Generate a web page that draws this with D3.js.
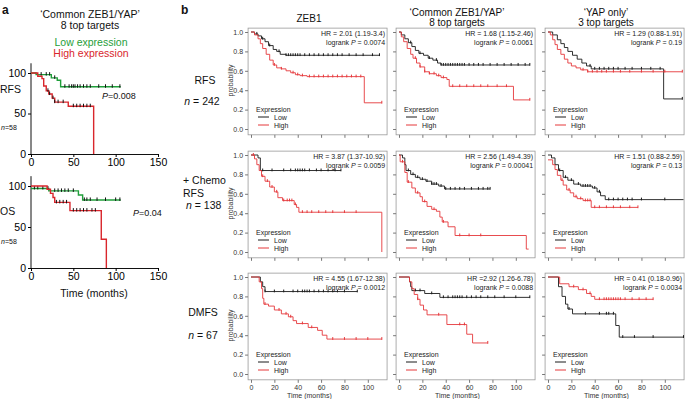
<!DOCTYPE html>
<html><head><meta charset="utf-8">
<script src="https://cdn.jsdelivr.net/npm/d3@7"></script>
<style>body{margin:0;background:#fff}svg{display:block;font-family:"Liberation Sans",Arial,sans-serif}</style>
</head><body><svg id="c" width="685" height="399"></svg>
<script>
// ---------- Panel a data (percent survival, months) ----------
const aTimeTicks = [0, 50, 100, 150];
const aPctTicks = [0, 50, 100];
const aRfsLow  = [[0,100],[6,98],[24,94],[31,91],[35,83],[106,83]];
const aRfsHigh = [[0,100],[8,96],[13,93],[15,84],[18,78],[21,74],[25,69],[28,64],[44,59],[74,0]];
const aOsLow   = [[0,97],[21,94],[56,89],[61,83],[106,83]];
const aOsHigh  = [[0,100],[19,96],[23,91],[26,86],[28,80],[46,70],[83,35],[89,0]];
const aRfsLowC  = [12,18,22,28,40,45,48,50,52,55,58,62,66,70,80,88,96,105];
const aRfsHighC = [20,22,26,28,32,38,50,54,58,62,66,70];
const aOsLowC   = [4,8,14,20,28,32,36,40,44,50,63,66,70,78,88,100,105];
const aOsHighC  = [30,34,38,42,50,54,58,62,66,72,76];

// ---------- Panel b data (probability, months) ----------
const bTimeTicks = [0, 20, 40, 60, 80, 100];
const bProbTicks = [0, 0.2, 0.4, 0.6, 0.8, 1.0];
const colTitles = [["ZEB1"], ["\u2018Common ZEB1/YAP\u2019", "8 top targets"], ["\u2018YAP only\u2019", "3 top targets"]];

const zeb1RfsLow    = [[0,1],[3,0.98],[6,0.96],[9,0.93],[12,0.9],[15,0.86],[19,0.82],[22,0.8],[25,0.77],[30,0.76],[110,0.76]];
const zeb1RfsHigh   = [[0,1],[3,0.97],[6,0.93],[8,0.88],[10,0.83],[13,0.77],[16,0.71],[19,0.66],[22,0.63],[26,0.62],[30,0.6],[34,0.58],[38,0.56],[42,0.55],[48,0.54],[97,0.27],[112,0.27]];
const commonRfsLow  = [[0,1],[2,0.97],[5,0.93],[8,0.89],[11,0.85],[14,0.81],[17,0.78],[21,0.76],[25,0.73],[29,0.71],[33,0.68],[36,0.66],[112,0.66]];
const commonRfsHigh = [[0,1],[2,0.95],[4,0.9],[7,0.83],[10,0.77],[12,0.73],[15,0.68],[18,0.64],[22,0.59],[26,0.57],[32,0.55],[36,0.53],[41,0.51],[43,0.44],[98,0.3],[112,0.3]];
const yapRfsLow     = [[0,1],[4,0.97],[8,0.92],[11,0.88],[14,0.84],[17,0.8],[21,0.76],[25,0.72],[29,0.68],[33,0.65],[37,0.62],[99,0.31],[115,0.31]];
const yapRfsHigh    = [[0,1],[2,0.97],[4,0.92],[6,0.87],[8,0.82],[11,0.77],[14,0.72],[17,0.68],[20,0.65],[24,0.63],[28,0.61],[34,0.59],[115,0.59]];

const zeb1ChemoLow    = [[0,1],[6,0.97],[8,0.84],[77,0.84]];
const zeb1ChemoHigh   = [[0,1],[3,0.96],[5,0.9],[7,0.84],[9,0.78],[12,0.73],[16,0.67],[20,0.62],[23,0.56],[27,0.53],[37,0.49],[39,0.46],[41,0.41],[112,0]];
const commonChemoLow  = [[0,1],[3,0.97],[5,0.9],[6,0.84],[10,0.8],[14,0.77],[18,0.75],[23,0.73],[28,0.7],[34,0.68],[39,0.65],[78,0.65]];
const commonChemoHigh = [[0,1],[1,0.93],[5,0.82],[7,0.72],[11,0.66],[14,0.61],[18,0.57],[20,0.52],[24,0.47],[28,0.44],[32,0.42],[35,0.36],[37,0.31],[42,0.26],[48,0.17],[109,0.03],[111,0.03]];
const yapChemoLow     = [[0,1],[3,0.97],[6,0.9],[9,0.84],[13,0.77],[17,0.74],[22,0.7],[28,0.68],[38,0.66],[42,0.62],[45,0.58],[49,0.54],[116,0.54]];
const yapChemoHigh    = [[0,0.95],[4,0.9],[6,0.85],[8,0.79],[11,0.74],[13,0.69],[16,0.64],[19,0.61],[22,0.57],[25,0.55],[30,0.53],[37,0.46],[77,0.46]];

const zeb1DmfsLow    = [[0,1],[8,0.95],[10,0.9],[12,0.85],[91,0.85]];
const zeb1DmfsHigh   = [[0,1],[7,0.95],[9,0.88],[10,0.78],[11,0.72],[15,0.7],[20,0.66],[26,0.62],[32,0.59],[36,0.55],[39,0.52],[49,0.48],[57,0.45],[61,0.4],[65,0.36],[112,0.36]];
const commonDmfsLow  = [[0,1],[9,0.95],[10,0.9],[11,0.86],[22,0.83],[35,0.79],[112,0.79]];
const commonDmfsHigh = [[0,1],[9,0.95],[11,0.88],[13,0.82],[16,0.77],[18,0.71],[21,0.66],[24,0.61],[41,0.51],[58,0.41],[63,0.32],[76,0.32]];
const yapDmfsLow     = [[0,1],[9,0.9],[12,0.8],[15,0.72],[17,0.67],[21,0.62],[58,0.5],[61,0.38],[116,0.38]];
const yapDmfsHigh    = [[0,1],[10,0.93],[18,0.9],[26,0.87],[33,0.83],[37,0.8],[40,0.77],[90,0.77]];

const zeb1RfsLowC     = [5,10,16,24,30,32,34,36,38,40,42,46,50,54,58,62,66,70,74,78,84,90,96,104,110];
const zeb1RfsHighC    = [20,26,36,40,44,50,54,58,62,66,70,74,78,82,86,90,94,112];
const commonRfsLowC   = [10,18,26,32,36,38,40,42,44,46,48,50,52,54,56,60,64,68,72,78,84,90,96,102,108,112];
const commonRfsHighC  = [14,18,22,26,30,34,38,46,52,58,64,70,76,84,92,112];
const yapRfsLowC      = [36,40,44,48,52,56,60,66,72,80,88,96,115];
const yapRfsHighC     = [30,34,38,42,46,50,56,62,70,80,90,100,115];
const zeb1ChemoLowC   = [10,18,28,34,38,40,42,44,46,50,56,60,66,72,77];
const zeb1ChemoHighC  = [2,10,14,18,22,28,31,33,35,38,44,48,52,58,64,70,80,90];
const commonChemoLowC = [8,12,16,20,24,28,30,32,36,40,44,48,52,56,62,68,72,76,78];
const commonChemoHighC= [3,8,16,22,30,38,52,60,70];
const yapChemoLowC    = [10,15,20,26,30,32,34,36,40,44,52,56,60,64,68,72,80,100];
const yapChemoHighC   = [12,18,24,28,32,34,36,40,44,50,56,62,70,77];
const zeb1DmfsLowC    = [12,20,28,36,40,44,46,48,50,54,58,62,66,70,74,80,91];
const zeb1DmfsHighC   = [12,24,30,34,44,52,70,80,90,100,112];
const commonDmfsLowC  = [14,18,28,38,42,46,48,50,52,54,58,62,66,70,76,82,90,100,112];
const commonDmfsHighC = [16,34,52,56,76];
const yapDmfsLowC     = [18,32,44,50,52,56,64,74,90,116];
const yapDmfsHighC    = [22,30,36,44,48,50,52,54,56,58,60,62,66,72,78,84,90];

const hrText = [
  ["HR = 2.01 (1.19-3.4)", "HR = 1.68 (1.15-2.46)", "HR = 1.29 (0.88-1.91)"],
  ["HR = 3.87 (1.37-10.92)", "HR = 2.56 (1.49-4.39)", "HR = 1.51 (0.88-2.59)"],
  ["HR = 4.55 (1.67-12.38)", "HR =2.92 (1.26-6.78)", "HR = 0.41 (0.18-0.96)"]
];
const logrankP = [["0.0074","0.0061","0.19"],["0.0059","0.00041","0.13"],["0.0012","0.0088","0.0034"]];

// ---------- drawing ----------
const svg = d3.select("#c");
const FONT = '"Liberation Sans",Arial,sans-serif';
const GREEN = "#1f9e3a", REDA = "#d9262c", REDB = "#e5383b", BLACK = "#1a1a1a";

function stepVal(pts, t){ let v = pts[0][1]; for (const p of pts){ if (p[0] <= t) v = p[1]; else break; } return v; }
function drawKM(g, x, y, pts, cens, color, w, tickColor, th){
  const line = d3.line().x(d => x(d[0])).y(d => y(d[1])).curve(d3.curveStepAfter);
  g.append("path").attr("d", line(pts)).attr("fill","none").attr("stroke",color).attr("stroke-width",w);
  g.selectAll(null).data(cens).enter().append("line")
    .attr("x1", d => x(d)).attr("x2", d => x(d))
    .attr("y1", d => y(stepVal(pts, d)) - th).attr("y2", d => y(stepVal(pts, d)) + th*0.4)
    .attr("stroke", tickColor).attr("stroke-width", 1);
}
function txt(x, y, s, size, anchor, opts = {}){
  const t = svg.append("text").attr("x", x).attr("y", y).attr("font-size", size)
    .attr("text-anchor", anchor || "start").attr("font-family", FONT).attr("fill", opts.fill || "#111");
  if (opts.weight) t.attr("font-weight", opts.weight);
  if (opts.style) t.attr("font-style", opts.style);
  t.text(s); return t;
}

// ----- Panel a -----
txt(2, 14, "a", 12, "start", {weight: "bold"});
txt(90, 18, "\u2018Common ZEB1/YAP\u2019", 10.5, "middle");
txt(90, 29, "8 top targets", 10.5, "middle");
txt(91, 46, "Low expression", 10.5, "middle", {fill: GREEN});
txt(91, 57, "High expression", 10.5, "middle", {fill: REDA});

const xA = d3.scaleLinear().domain([0,150]).range([31,158]);
const aPlots = [
  {y: d3.scaleLinear().domain([0,100]).range([154,73]), low: aRfsLow, high: aRfsHigh, lowC: aRfsLowC, highC: aRfsHighC, lab: "RFS", labY: 93, nY: 130, p: "0.008", px: 102, py: 99},
  {y: d3.scaleLinear().domain([0,100]).range([268,186]), low: aOsLow, high: aOsHigh, lowC: aOsLowC, highC: aOsHighC, lab: "OS", labY: 215, nY: 244, p: "0.04", px: 133, py: 216}
];
aPlots.forEach(P => {
  const g = svg.append("g");
  const ax = g.append("g").attr("transform", `translate(0,${P.y(0)})`)
    .call(d3.axisBottom(xA).tickValues(aTimeTicks).tickSize(3).tickSizeOuter(0).tickPadding(2));
  ax.attr("font-size", 10.5).attr("font-family", FONT);
  ax.select(".domain").attr("stroke", "#111");
  const ay = g.append("g").attr("transform", `translate(${xA(0)},0)`)
    .call(d3.axisLeft(P.y).tickValues(aPctTicks).tickSize(3).tickSizeOuter(0).tickPadding(2));
  ay.attr("font-size", 10.5).attr("font-family", FONT);
  ay.select(".domain").remove();
  g.append("line").attr("x1", xA(0)).attr("x2", xA(0)).attr("y1", P.y(0)).attr("y2", P.y(112)).attr("stroke", "#111");
  drawKM(g, xA, P.y, P.low, P.lowC, GREEN, 1.4, "#111", 2.5);
  drawKM(g, xA, P.y, P.high, P.highC, REDA, 1.4, "#111", 2.5);
  txt(0, P.labY, P.lab, 10.5, "start");
  const n = txt(1, P.nY, "", 7, "start");
  n.append("tspan").attr("font-style", "italic").text("n");
  n.append("tspan").text("=58");
  const p = txt(P.px, P.py, "", 9, "start");
  p.append("tspan").attr("font-style", "italic").text("P");
  p.append("tspan").text("=" + P.p);
});
txt(94, 297, "Time (months)", 10.5, "middle");

// ----- Panel b -----
txt(181, 14, "b", 12, "start", {weight: "bold"});
const colX0 = [251, 399, 548];
const rowY1 = [32, 155, 277];
const PXM = 1.168, PH = 97;
colTitles.forEach((lines, c) => {
  const cx = colX0[c] + 58;
  if (lines.length === 1) txt(cx, 22, lines[0], 10, "middle");
  else { txt(cx, 15.5, lines[0], 10, "middle"); txt(cx, 26, lines[1], 10, "middle"); }
});
// row labels
txt(205, 84, "RFS", 10.5, "middle");
const n1 = txt(202, 105, "", 10.5, "middle"); n1.append("tspan").attr("font-style","italic").text("n"); n1.append("tspan").text(" = 242");
txt(183, 184, "+ Chemo", 10.5, "start");
txt(183, 197, "RFS", 10.5, "start");
const n2 = txt(186, 209, "", 10.5, "start"); n2.append("tspan").attr("font-style","italic").text("n"); n2.append("tspan").text(" = 138");
txt(203, 316, "DMFS", 10.5, "middle");
const n3 = txt(203, 339, "", 10.5, "middle"); n3.append("tspan").attr("font-style","italic").text("n"); n3.append("tspan").text(" = 67");

const curvesB = [
  [[zeb1RfsLow, zeb1RfsHigh, zeb1RfsLowC, zeb1RfsHighC], [commonRfsLow, commonRfsHigh, commonRfsLowC, commonRfsHighC], [yapRfsLow, yapRfsHigh, yapRfsLowC, yapRfsHighC]],
  [[zeb1ChemoLow, zeb1ChemoHigh, zeb1ChemoLowC, zeb1ChemoHighC], [commonChemoLow, commonChemoHigh, commonChemoLowC, commonChemoHighC], [yapChemoLow, yapChemoHigh, yapChemoLowC, yapChemoHighC]],
  [[zeb1DmfsLow, zeb1DmfsHigh, zeb1DmfsLowC, zeb1DmfsHighC], [commonDmfsLow, commonDmfsHigh, commonDmfsLowC, commonDmfsHighC], [yapDmfsLow, yapDmfsHigh, yapDmfsLowC, yapDmfsHighC]]
];

rowY1.forEach((y1, r) => {
  colX0.forEach((x0, c) => {
    const x = d3.scaleLinear().domain([0,100]).range([x0, x0 + 100*PXM]);
    const y = d3.scaleLinear().domain([0,1]).range([y1 + PH, y1]);
    const g = svg.append("g");
    const L = x(-2.5), R = x(116.5), T = y(1.04), B = y(-0.06);
    g.append("rect").attr("x", L).attr("y", T).attr("width", R - L).attr("height", B - T)
      .attr("fill", "none").attr("stroke", "#9a9a9a").attr("stroke-width", 0.8);
    const ax = g.append("g").attr("transform", `translate(0,${B})`)
      .call(d3.axisBottom(x).tickValues(bTimeTicks).tickSize(3).tickSizeOuter(0).tickPadding(2)
        .tickFormat(r === 2 ? d3.format("d") : ""));
    ax.select(".domain").remove();
    ax.attr("font-size", 7).attr("font-family", FONT);
    ax.selectAll("line").attr("stroke", "#777");
    ax.selectAll("text").attr("fill", "#333");
    const ay = g.append("g").attr("transform", `translate(${L},0)`)
      .call(d3.axisLeft(y).tickValues(bProbTicks).tickSize(3).tickSizeOuter(0).tickPadding(2)
        .tickFormat(c === 0 ? d3.format(".1f") : ""));
    ay.select(".domain").remove();
    ay.attr("font-size", 7).attr("font-family", FONT);
    ay.selectAll("line").attr("stroke", "#777");
    ay.selectAll("text").attr("fill", "#333");
    if (c === 0) {
      svg.append("text").attr("transform", `translate(${L - 15},${y(0.5)}) rotate(-90)`)
        .attr("text-anchor", "middle").attr("font-size", 7).attr("font-family", FONT).attr("fill", "#333").text("probability");
    }
    const [lo, hi, loC, hiC] = curvesB[r][c];
    drawKM(g, x, y, lo, loC, BLACK, 0.9, BLACK, 2);
    drawKM(g, x, y, hi, hiC, REDB, 0.9, REDB, 2);
    // HR text
    txt(R - 2, y1 + 4, hrText[r][c], 7, "end", {fill: "#222"});
    const lr = txt(R - 2, y1 + 13, "", 7, "end", {fill: "#222"});
    lr.append("tspan").text("logrank ");
    lr.append("tspan").attr("font-style", "italic").text("P");
    lr.append("tspan").text(" = " + logrankP[r][c]);
    // legend
    txt(x0 + 5, y1 + 80, "Expression", 7, "start", {fill: "#222"});
    g.append("line").attr("x1", x0 + 7).attr("x2", x0 + 18).attr("y1", y1 + 85).attr("y2", y1 + 85).attr("stroke", BLACK).attr("stroke-width", 1);
    txt(x0 + 23, y1 + 87.5, "Low", 7, "start", {fill: "#222"});
    g.append("line").attr("x1", x0 + 7).attr("x2", x0 + 18).attr("y1", y1 + 93).attr("y2", y1 + 93).attr("stroke", REDB).attr("stroke-width", 1);
    txt(x0 + 23, y1 + 95.5, "High", 7, "start", {fill: "#222"});
    if (r === 2) txt(x(50), 398, "Time (months)", 7, "middle", {fill: "#333"});
  });
});
</script></body></html>
